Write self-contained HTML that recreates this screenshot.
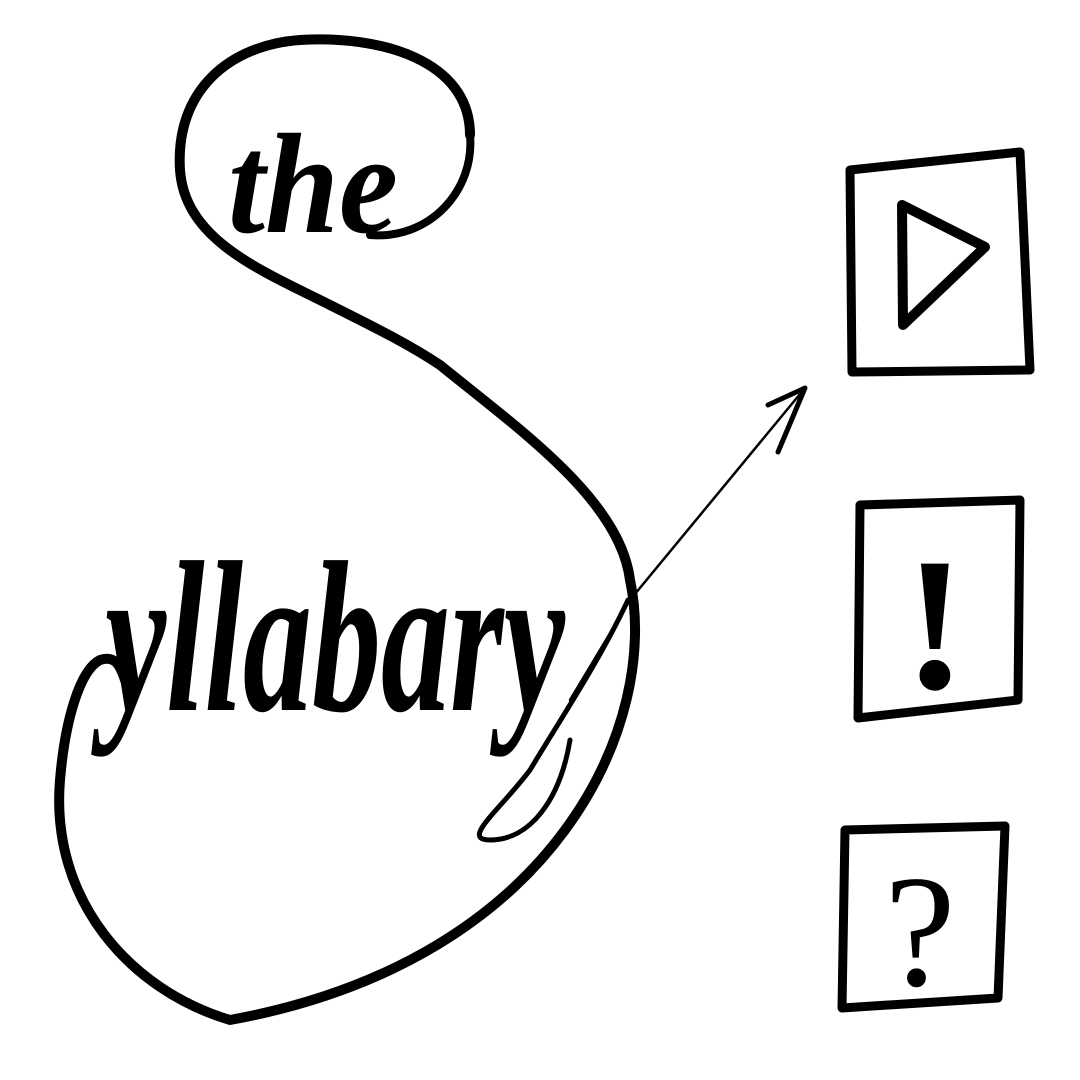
<!DOCTYPE html>
<html><head><meta charset="utf-8"><style>
html,body{margin:0;padding:0;background:#fff;}
svg{display:block}
</style></head><body>
<svg width="1080" height="1080" viewBox="0 0 1080 1080" xmlns="http://www.w3.org/2000/svg">
<rect width="1080" height="1080" fill="#fff"/>
<g fill="none" stroke="#000" stroke-linecap="round" stroke-linejoin="round">
<path d="M 470 135 C 470 60, 380 35, 300 40 C 230 45, 175 90, 180 170 C 185 240, 260 270, 330 305 C 380 330, 410 345, 440 365 C 520 430, 620 500, 630 580 C 660 720, 560 960, 230 1020 C 130 990, 50 900, 60 780 C 65 720, 80 670, 100 660 C 115 655, 120 665, 125 680" stroke-width="10"/>
<path d="M 470 135 C 475 190, 430 240, 370 235" stroke-width="8"/>
<path d="M 628 600 C 600 660, 560 720, 530 770 C 500 810, 460 840, 490 840 C 530 840, 560 800, 570 740" stroke-width="5"/>
<path d="M 570 700 L 630 600 L 805 388" stroke-width="2.5"/>
<path d="M 768 405 L 805 388 L 778 452" stroke-width="5"/>
<path d="M 850 170 L 1020 152 L 1030 370 L 852 372 Z" stroke-width="9"/>
<path d="M 860 505 L 1020 500 L 1018 700 L 858 718 Z" stroke-width="9"/>
<path d="M 845 830 L 1005 826 L 998 998 L 842 1008 Z" stroke-width="9"/>
<path d="M 902 205 L 985 247 L 903 325 Z" stroke-width="10"/>
</g>
<text transform="translate(228,232) scale(1,1.3)" font-family="Liberation Serif, serif" font-style="italic" font-weight="bold" font-size="110" textLength="170" lengthAdjust="spacingAndGlyphs">the</text>
<text transform="translate(105,710) scale(1,1.8)" font-family="Liberation Serif, serif" font-style="italic" font-weight="bold" font-size="120" textLength="460" lengthAdjust="spacingAndGlyphs">yllabary</text>
<text x="935" y="688" text-anchor="middle" font-family="Liberation Serif, serif" font-weight="bold" font-size="190">!</text>
<text x="920" y="985" text-anchor="middle" font-family="Liberation Serif, serif" font-size="160">?</text>
</svg>
</body></html>
